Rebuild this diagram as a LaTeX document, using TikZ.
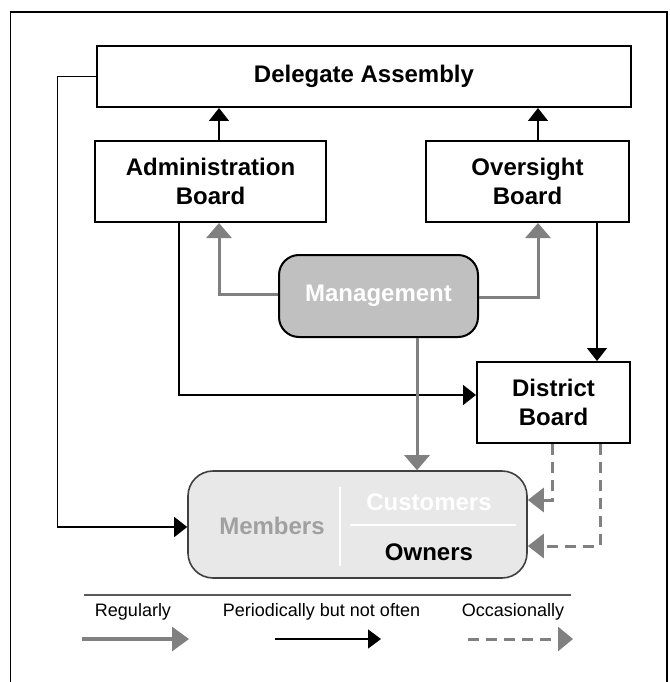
\documentclass[tikz,border=0pt]{standalone}
\usepackage{fontspec}
\setmainfont{Liberation Sans}
\usetikzlibrary{arrows.meta}
\definecolor{cgray}{HTML}{808080}
\definecolor{mgfill}{HTML}{C0C0C0}
\definecolor{memfill}{HTML}{E8E8E8}
\definecolor{memtext}{HTML}{A0A0A0}
\definecolor{memborder}{HTML}{404040}
\tikzset{
  box/.style={draw=black, line width=2pt, fill=white, inner sep=0pt, align=center,
    font=\fontsize{24}{28.7}\selectfont\bfseries},
  blk/.style={draw=black, line width=1.4pt, -{Triangle[length=13pt,width=20pt]}},
  gry/.style={draw=cgray, line width=3pt, -{Triangle[length=15pt,width=25pt]}},
  dsh/.style={draw=cgray, line width=3pt, dash pattern=on 11pt off 7pt, -{Triangle[length=16pt,width=24pt]}},
  legtext/.style={font=\fontsize{18}{21}\selectfont, inner sep=0pt},
  btext/.style={font=\fontsize{24}{28.7}\selectfont\bfseries, inner sep=0pt}
}
\begin{document}
\begin{tikzpicture}[x=1pt,y=-1pt]
\useasboundingbox (0,0) rectangle (669,682);
% frame
\draw[line width=1.5pt] (10.5,690) -- (10.5,12) -- (667,12) -- (667,690);

% nodes
\node[box, minimum width=534pt, minimum height=61pt] (da) at (364,76.5) {Delegate Assembly};
\node[box, minimum width=231pt, minimum height=81pt] (adm) at (210.5,181.5) {Administration\\Board};
\node[box, minimum width=203pt, minimum height=81pt] (ovs) at (527.5,181.5) {Oversight\\Board};
\node[box, fill=mgfill, rounded corners=20pt, minimum width=199pt, minimum height=82pt, text=white] (mgt) at (378.5,296) {Management};
\node[box, minimum width=153pt, minimum height=81pt] (dst) at (553.5,402.5) {District\\Board};
\node[draw=memborder, line width=1.6pt, fill=memfill, rounded corners=25pt, minimum width=339pt, minimum height=107pt, inner sep=0pt] (mem) at (357.5,524.5) {};

% members internals
\draw[white, line width=1.5pt] (340,487) -- (340,566);
\draw[white, line width=1.5pt] (350,525) -- (516,525);
\node[btext, text=memtext] (tmem) at (272,526) {Members};
\node[btext, text=white] (tcus) at (429,502) {Customers};
\node[btext, text=black] (town) at (429,552) {Owners};

% connectors
\draw[blk] ([xshift=8.5pt]adm.north) -- ([xshift=8.5pt]adm.north |- da.south);
\draw[blk] ([xshift=10.5pt]ovs.north) -- ([xshift=10.5pt]ovs.north |- da.south);
\draw[gry] ([yshift=2pt]mgt.west) -| ([xshift=8.5pt]adm.south);
\draw[gry] ([yshift=-1pt]mgt.east) -| ([xshift=10.5pt]ovs.south);
\draw[blk] ([xshift=-31.5pt]adm.south) |- ([yshift=7.5pt]dst.west);
\draw[blk] ([xshift=69.5pt]ovs.south) -- ([xshift=69.5pt]ovs.south |- dst.north);
\coordinate (lc) at (57.5,76.5);
\draw[blk] (da.west) -- (da.west -| lc) |- ([yshift=-2.5pt]mem.west);
\draw[gry] ([xshift=38.5pt]mgt.south) -- ([xshift=38.5pt]mgt.south |- mem.north);
\draw[dsh] ([xshift=-1.5pt]dst.south) |- ([yshift=24.5pt]mem.east);
\draw[dsh] ([xshift=46.5pt]dst.south) |- ([yshift=-21.5pt]mem.east);

% legend
\coordinate (l1) at (84,595);
\coordinate (l2) at (571,595);
\draw[draw=black!65, line width=1.3pt] (l1) -- (l2);
\node[legtext] (lr) at (133,612) {Regularly};
\node[legtext] (lp) at (321.5,612) {Periodically but not often};
\node[legtext] (lo) at (513,612) {Occasionally};
\coordinate (a1) at (82,639);
\coordinate (a2) at (189,639);
\coordinate (b1) at (275,639);
\coordinate (b2) at (381,639);
\coordinate (c1) at (468,639);
\coordinate (c2) at (573,639);
\draw[gry, line width=3.2pt, -{Triangle[length=17pt,width=24pt]}] (a1) -- (a2);
\draw[blk, -{Triangle[length=13pt,width=19pt]}] (b1) -- (b2);
\draw[dsh, -{Triangle[length=15pt,width=24pt]}] (c1) -- (c2);
\end{tikzpicture}
\end{document}
